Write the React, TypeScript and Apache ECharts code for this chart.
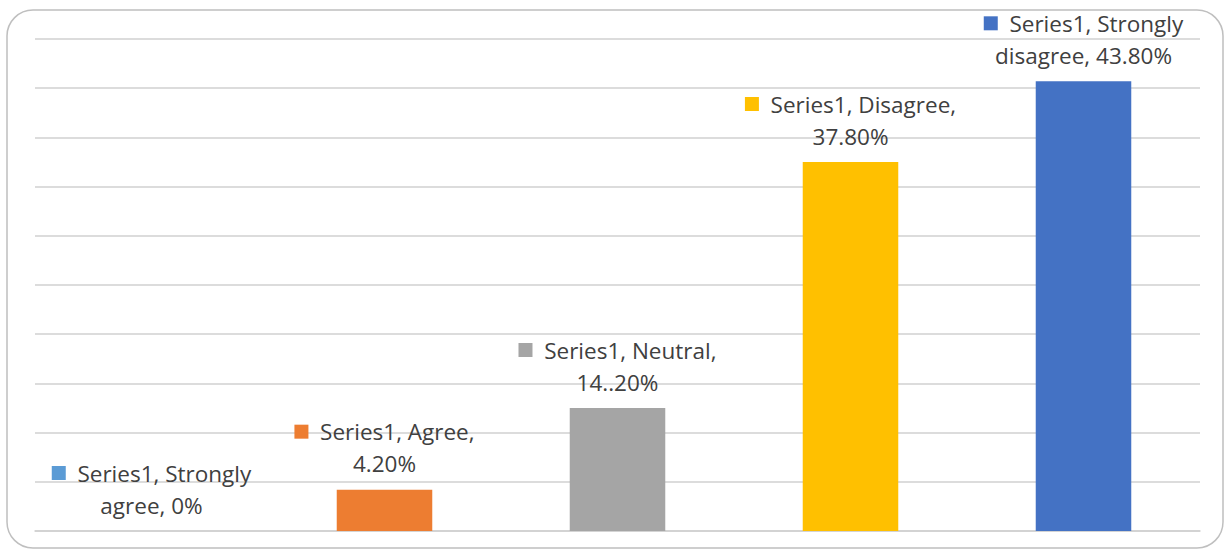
import React, { useEffect, useRef } from "react";
import * as echarts from "echarts";

const categories = ["Strongly agree", "Agree", "Neutral", "Disagree", "Strongly disagree"];
const values = [0, 4.2, 12.5, 37.5, 45.7];
const labelLines1 = ["Series1, Strongly", "Series1, Agree,", "Series1, Neutral,", "Series1, Disagree,", "Series1, Strongly"];
const labelLines2 = ["agree, 0%", "4.20%", "14..20%", "37.80%", "disagree, 43.80%"];
const colors = ["#5B9BD5", "#ED7D31", "#A5A5A5", "#FFC000", "#4472C4"];

export default function App() {
  const ref = useRef<HTMLDivElement>(null);
  useEffect(() => {
    if (!ref.current) return;
    const chart = echarts.init(ref.current, null, { renderer: "svg" });
    const rich: any = {
      t: { fontFamily: "Open Sans", fontSize: 22.5, color: "#404040", lineHeight: 32 },
    };
    colors.forEach((c, i) => {
      rich["m" + i] = { backgroundColor: c, width: 14, height: 14, lineHeight: 32 };
    });
    chart.setOption({
      animation: false,
      backgroundColor: "#ffffff",
      grid: { left: 35, right: 28, top: 39, bottom: 20 },
      graphic: [
        {
          type: "rect",
          shape: { x: 7, y: 10, width: 1216, height: 538, r: 26 },
          style: { fill: "none", stroke: "#bfbfbf", lineWidth: 1.5 },
          silent: true,
          z: -1,
        },
      ],
      xAxis: {
        type: "category",
        data: categories,
        axisLine: { show: true, lineStyle: { color: "#d0d0d0", width: 1.5 } },
        axisTick: { show: false },
        axisLabel: { show: false },
      },
      yAxis: {
        type: "value",
        min: 0,
        max: 50,
        interval: 5,
        axisLabel: { show: false },
        axisLine: { show: false },
        axisTick: { show: false },
        splitLine: { lineStyle: { color: "#d0d0d0", width: 1.5 } },
      },
      series: [
        {
          type: "bar",
          barCategoryGap: "59%",
          data: values.map((v, i) => ({
            value: v,
            itemStyle: { color: colors[i] },
            label: {
              show: true,
              position: "top",
              distance: 10,
              align: "center",
              rich,
              formatter: () => `{m${i}|}{t|  ${labelLines1[i]}}\n{t|${labelLines2[i]}}`,
            },
          })),
        },
      ],
    });
    return () => chart.dispose();
  }, []);
  return (
    <div
      ref={ref}
      style={{ position: "fixed", left: 0, top: 0, width: 1228, height: 551 }}
    />
  );
}
